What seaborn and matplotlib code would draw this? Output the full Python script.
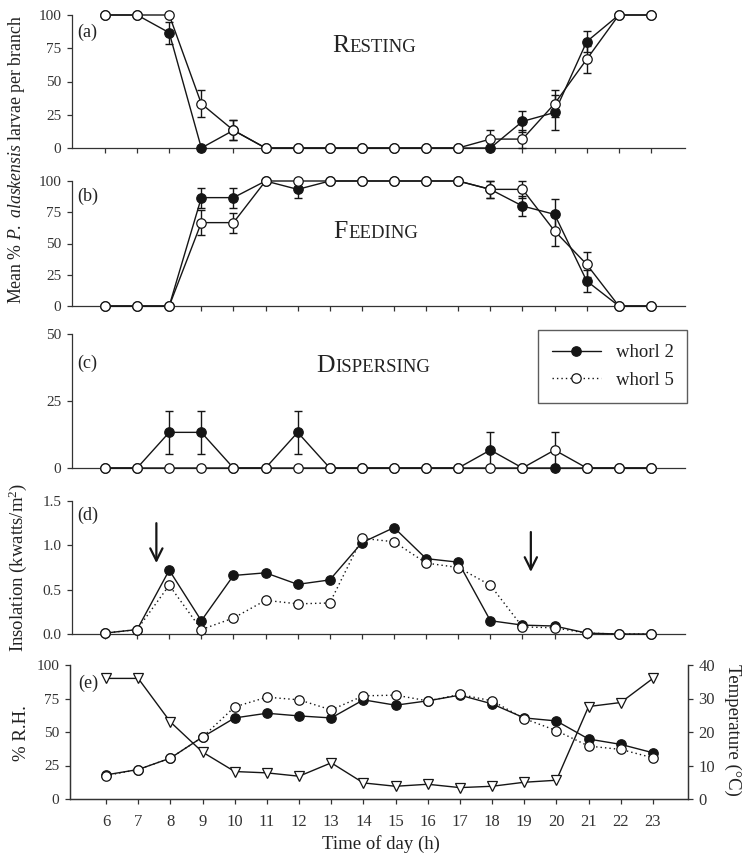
import matplotlib
matplotlib.use("Agg")
import matplotlib.pyplot as plt
from matplotlib.lines import Line2D
import seaborn as sns

# ---------------- data ----------------
hours = [6, 7, 8, 9, 10, 11, 12, 13, 14, 15, 16, 17, 18, 19, 20, 21, 22, 23]

rest_w2 = [100, 100, 86.7, 0, 13.3, 0, 0, 0, 0, 0, 0, 0, 0, 20, 26.7, 80, 100, 100]
rest_w2_err = [0, 0, 8.3, 0, 7.5, 0, 0, 0, 0, 0, 0, 0, 0, 8, 13, 8, 0, 0]
rest_w5 = [100, 100, 100, 33.3, 13.3, 0, 0, 0, 0, 0, 0, 0, 6.7, 6.7, 33.3, 66.7, 100, 100]
rest_w5_err = [0, 0, 0, 10, 7.5, 0, 0, 0, 0, 0, 0, 0, 6.7, 6.7, 10, 10, 0, 0]

feed_w2 = [0, 0, 0, 86.7, 86.7, 100, 93.3, 100, 100, 100, 100, 100, 93.3, 80, 73.3, 20, 0, 0]
feed_w2_err = [0, 0, 0, 8, 8, 0, 6.7, 0, 0, 0, 0, 0, 6.7, 8, 12.5, 8.5, 0, 0]
feed_w5 = [0, 0, 0, 66.7, 66.7, 100, 100, 100, 100, 100, 100, 100, 93.3, 93.3, 60, 33.3, 0, 0]
feed_w5_err = [0, 0, 0, 10, 8, 0, 0, 0, 0, 0, 0, 0, 6.7, 6.7, 12, 10, 0, 0]

disp_w2 = [0, 0, 13.3, 13.3, 0, 0, 13.3, 0, 0, 0, 0, 0, 6.7, 0, 0, 0, 0, 0]
disp_w2_err = [0, 0, 8, 8, 0, 0, 8, 0, 0, 0, 0, 0, 6.7, 0, 0, 0, 0, 0]
disp_w5 = [0, 0, 0, 0, 0, 0, 0, 0, 0, 0, 0, 0, 0, 0, 6.7, 0, 0, 0]
disp_w5_err = [0, 0, 0, 0, 0, 0, 0, 0, 0, 0, 0, 0, 0, 0, 6.7, 0, 0, 0]

insol_w2 = [0.01, 0.05, 0.72, 0.15, 0.66, 0.69, 0.56, 0.61, 1.03, 1.20, 0.85, 0.81, 0.15, 0.10, 0.09, 0.01, 0, 0]
insol_w5 = [0.01, 0.05, 0.55, 0.05, 0.18, 0.38, 0.34, 0.35, 1.08, 1.04, 0.80, 0.75, 0.55, 0.08, 0.07, 0.01, 0, 0]

rh = [90, 90, 57.5, 35, 20.5, 19.5, 17, 27, 12, 9.5, 11, 8.5, 9.5, 12.5, 14, 69, 72, 90]
temp_w2 = [7.2, 8.8, 12.2, 18.5, 24.2, 25.6, 24.8, 24.2, 29.6, 28.0, 29.3, 31.0, 28.4, 24.2, 23.3, 17.9, 16.3, 13.8]
temp_w5 = [7.0, 8.8, 12.2, 18.5, 27.5, 30.4, 29.6, 26.6, 30.8, 31.0, 29.3, 31.2, 29.3, 24.0, 20.4, 15.8, 14.8, 12.3]

arrow_hours = [7.6, 19.26]
series_labels = ["whorl 2", "whorl 5"]

# ---------------- style ----------------
sns.set_style("ticks")
plt.rcParams["font.family"] = ["Liberation Serif", "DejaVu Serif"]
plt.rcParams["mathtext.fontset"] = "custom"
plt.rcParams["mathtext.rm"] = "Liberation Serif"
plt.rcParams["mathtext.it"] = "Liberation Serif:italic"
plt.rcParams["axes.edgecolor"] = "#333333"
plt.rcParams["axes.linewidth"] = 0.9
plt.rcParams["xtick.color"] = "#333333"
plt.rcParams["ytick.color"] = "#333333"
plt.rcParams["text.color"] = "#222222"

INK = "#151515"
W, H = 742, 860
fig = plt.figure(figsize=(W / 100, H / 100), dpi=100)


def axes_px(l, r, top, bottom):
    return fig.add_axes([l / W, 1 - bottom / H, (r - l) / W, (bottom - top) / H])


def style_axes(ax, xlim, show_xlabels=False):
    ax.set_xlim(*xlim)
    ax.set_xticks(hours)
    sns.despine(ax=ax)
    ax.tick_params(axis="both", direction="out", length=3.6, width=0.9)
    ax.tick_params(axis="y", labelsize=11, pad=4)
    ax.tick_params(axis="x", labelsize=12, pad=7)
    if not show_xlabels:
        ax.set_xticklabels([])
    ax.set_xlabel("")
    ax.set_ylabel("")


def draw_series(ax, y, err=None, filled=True, dotted=False, z=3, marker="o", ms=6.8):
    face = INK if filled else "white"
    if err is not None:
        idx = [i for i, e in enumerate(err) if e > 0]
        if idx:
            ax.errorbar([hours[i] for i in idx], [y[i] for i in idx],
                        yerr=[err[i] for i in idx], fmt="none", ecolor=INK,
                        elinewidth=1.0, capsize=3.2, capthick=1.0,
                        zorder=z - 0.5, clip_on=False)
    sns.lineplot(x=hours, y=y, ax=ax, color=INK, linewidth=1.0,
                 linestyle=(0, (1, 2.2)) if dotted else "-",
                 marker=marker, markersize=ms, markerfacecolor=face,
                 markeredgecolor=INK, markeredgewidth=0.9, clip_on=False,
                 zorder=z)


xlim_main = (4.973, 24.06)

# ---- (a) resting
ax_a = axes_px(72, 685, 15, 148)
draw_series(ax_a, rest_w2, rest_w2_err, filled=True, z=3)
draw_series(ax_a, rest_w5, rest_w5_err, filled=False, z=4)
ax_a.set_ylim(0, 100)
ax_a.set_yticks([0, 25, 50, 75, 100])
style_axes(ax_a, xlim_main)

# ---- (b) feeding
ax_b = axes_px(72, 685, 181, 306)
draw_series(ax_b, feed_w2, feed_w2_err, filled=True, z=3)
draw_series(ax_b, feed_w5, feed_w5_err, filled=False, z=4)
ax_b.set_ylim(0, 100)
ax_b.set_yticks([0, 25, 50, 75, 100])
style_axes(ax_b, xlim_main)

# ---- (c) dispersing
ax_c = axes_px(72, 685, 334, 468)
draw_series(ax_c, disp_w2, disp_w2_err, filled=True, z=3)
draw_series(ax_c, disp_w5, disp_w5_err, filled=False, z=4)
ax_c.set_ylim(0, 50)
ax_c.set_yticks([0, 25, 50])
style_axes(ax_c, xlim_main)

handles = [
    Line2D([], [], color=INK, lw=1.0, marker="o", ms=6.8, mfc=INK, mec=INK, mew=0.9),
    Line2D([], [], color=INK, lw=1.0, ls=(0, (1, 2.2)), marker="o", ms=6.8,
           mfc="white", mec=INK, mew=0.9),
]
leg = ax_c.legend(handles, series_labels, loc="upper right",
                  bbox_to_anchor=(1.004, 1.03), frameon=True, fancybox=False,
                  edgecolor="#333333", fontsize=13.5, handlelength=2.6,
                  handletextpad=0.8, borderpad=0.75, labelspacing=0.55,
                  borderaxespad=0)
leg.get_frame().set_linewidth(1.0)

# ---- (d) insolation
ax_d = axes_px(72, 685, 501, 634)
draw_series(ax_d, insol_w2, None, filled=True, z=3)
draw_series(ax_d, insol_w5, None, filled=False, dotted=True, z=4)
ax_d.set_ylim(0, 1.5)
ax_d.set_yticks([0, 0.5, 1.0, 1.5])
ax_d.set_yticklabels(["0.0", "0.5", "1.0", "1.5"])
style_axes(ax_d, xlim_main)
ax_d.annotate("", xy=(arrow_hours[0], 0.80), xytext=(arrow_hours[0], 1.25),
              arrowprops=dict(arrowstyle="->", color=INK, lw=1.6,
                              mutation_scale=22, shrinkA=0, shrinkB=0))
ax_d.annotate("", xy=(arrow_hours[1], 0.70), xytext=(arrow_hours[1], 1.15),
              arrowprops=dict(arrowstyle="->", color=INK, lw=1.6,
                              mutation_scale=22, shrinkA=0, shrinkB=0))

# ---- (e) RH + temperature
ax_e = axes_px(70, 688, 665, 799)
draw_series(ax_e, rh, None, filled=False, z=3, marker="v", ms=7.5)
ax_e.set_ylim(0, 100)
ax_e.set_yticks([0, 25, 50, 75, 100])
style_axes(ax_e, (4.88, 24.09), show_xlabels=True)
ax_e.spines["right"].set_visible(True)

ax_t = ax_e.twinx()
draw_series(ax_t, temp_w2, None, filled=True, z=3)
draw_series(ax_t, temp_w5, None, filled=False, dotted=True, z=4)
ax_t.set_ylim(0, 40)
ax_t.set_yticks([0, 10, 20, 30, 40])
ax_t.set_xlim(4.88, 24.09)
ax_t.set_ylabel("")
ax_t.spines["top"].set_visible(False)
ax_t.tick_params(axis="y", direction="out", length=3.6, width=0.9, labelsize=12, pad=4)

# ---------------- texts ----------------
def ftext(x, y, s, **kw):
    fig.text(x / W, 1 - y / H, s, **kw)


for lab, (x, y) in zip(["(a)", "(b)", "(c)", "(d)", "(e)"],
                       [(77, 32), (77, 196), (77, 363), (77, 515), (78, 683)]):
    ftext(x, y, lab, ha="left", va="center", fontsize=13)

for first, rest, xb, yb in [("R", "ESTING", 349, 52), ("F", "EEDING", 348, 238),
                            ("D", "ISPERSING", 335, 372)]:
    ftext(xb, yb, first, ha="right", va="baseline", fontsize=18.5)
    ftext(xb, yb, rest, ha="left", va="baseline", fontsize=13.5)

ftext(17, 160, r"Mean % $\it{P.}$ $\it{alaskensis}$ larvae per branch",
      rotation=90, ha="center", va="center", fontsize=12.8)
ftext(18, 567, r"Insolation (kwatts/m$^2$)", rotation=90, ha="center",
      va="center", fontsize=13.5)
ftext(21, 733, "% R.H.", rotation=90, ha="center", va="center", fontsize=13.5)
ftext(733, 730, "Temperature (°C)", rotation=270, ha="center", va="center",
      fontsize=13.5)
ftext(381, 844, "Time of day (h)", ha="center", va="center", fontsize=13.5)

fig.savefig("out.png", dpi=100)
